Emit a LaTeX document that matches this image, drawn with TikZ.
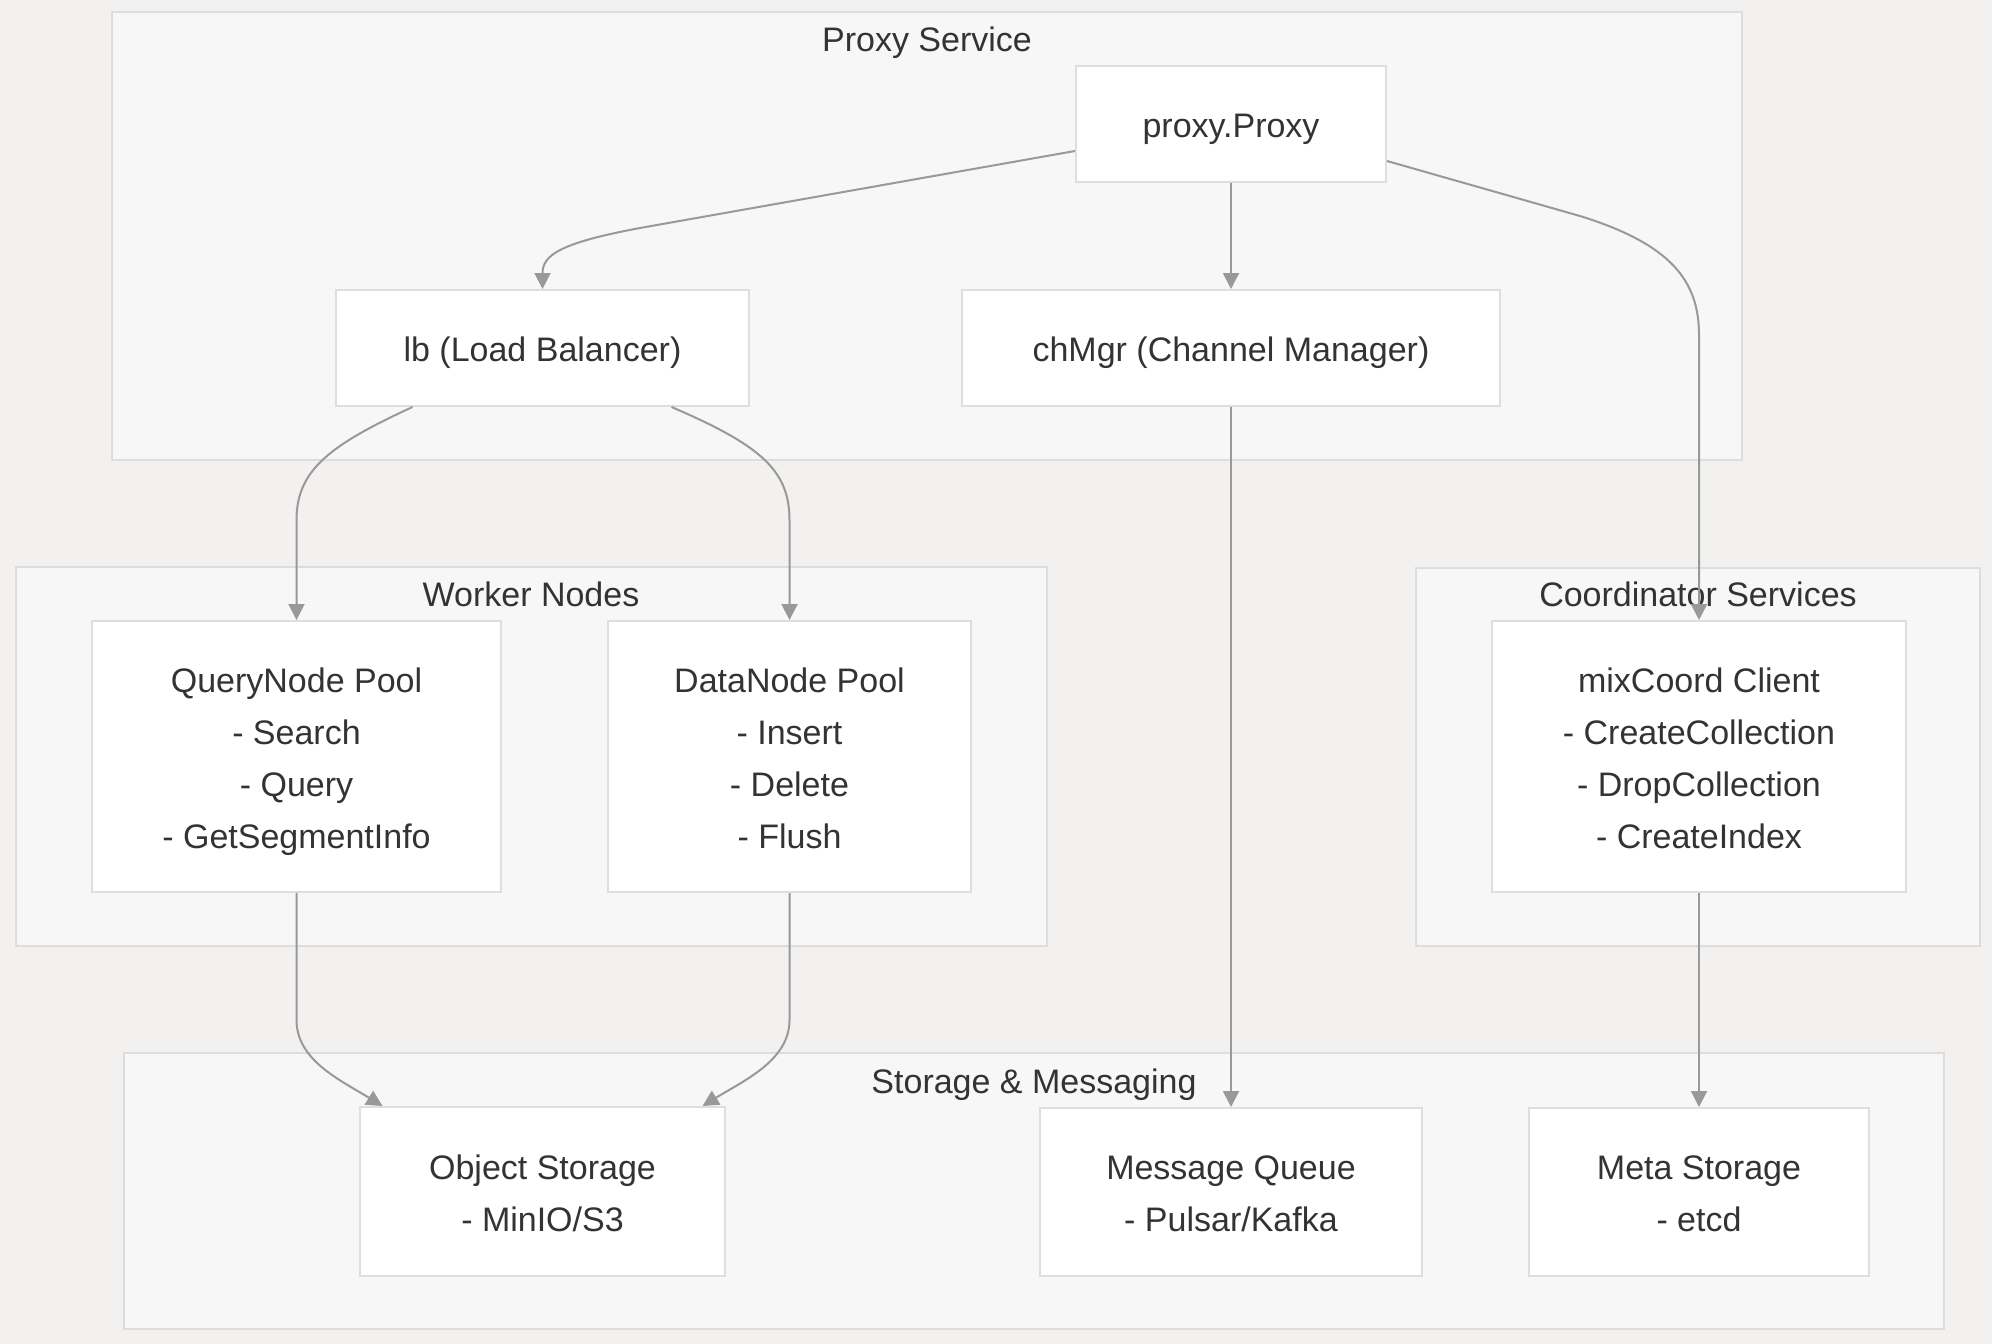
\documentclass[tikz,border=0pt]{standalone}
\usepackage{fontspec}
\setmainfont{Liberation Sans}
\usetikzlibrary{arrows.meta}
\definecolor{bgc}{HTML}{F2F1F0}
\definecolor{clfill}{HTML}{F7F7F7}
\definecolor{clline}{HTML}{DDDDDD}
\definecolor{ndline}{HTML}{DEDEDE}
\definecolor{edgec}{HTML}{999999}
\definecolor{txt}{HTML}{333333}
\newcommand\Sa{\rule[-8pt]{0pt}{43.5pt}}
\begin{document}
\begin{tikzpicture}[x=1pt,y=-1pt,
  cluster/.style={draw=clline, fill=clfill, line width=2pt},
  box/.style={draw=ndline, fill=white, line width=2pt, align=center, text=txt,
    font=\fontsize{34}{52}\selectfont, inner sep=0pt},
  ctitle/.style={text=txt, font=\fontsize{34}{40}\selectfont, inner sep=0pt,
    text height=25.5pt, text depth=0pt},
  edge/.style={draw=edgec, line width=2pt, -{Triangle[length=16pt,width=16pt]}}]
\useasboundingbox (0,0) rectangle (1992,1344);
\fill[bgc] (0,0) rectangle (1992,1344);
% clusters
\draw[cluster] (112,12) rectangle (1742,460);
\draw[cluster] (16,567) rectangle (1047,946);
\draw[cluster] (1416,568) rectangle (1980,946);
\draw[cluster] (124,1053) rectangle (1944,1329);
\node[ctitle] (tproxy) at (927,39) {Proxy Service};
\node[ctitle] (tworker) at (531,594) {Worker Nodes};
\node[ctitle] (tcoord) at (1698,594) {Coordinator Services};
\node[ctitle] (tstore) at (1034,1081) {Storage \& Messaging};
% nodes
\node[box, minimum width=310pt, minimum height=116pt] (proxy) at (1231,124) {\Sa proxy.Proxy};
\node[box, minimum width=413pt, minimum height=116pt] (lb) at (542.5,348) {\Sa lb (Load Balancer)};
\node[box, minimum width=538pt, minimum height=116pt] (chmgr) at (1231,348) {\Sa chMgr (Channel Manager)};
\node[box, minimum width=409pt, minimum height=271pt] (qn) at (296.5,756.5) {\Sa QueryNode Pool\\\Sa - Search\\\Sa - Query\\\Sa - GetSegmentInfo};
\node[box, minimum width=363pt, minimum height=271pt] (dn) at (789.5,756.5) {\Sa DataNode Pool\\\Sa - Insert\\\Sa - Delete\\\Sa - Flush};
\node[box, minimum width=414pt, minimum height=271pt] (mix) at (1699,756.5) {\Sa mixCoord Client\\\Sa - CreateCollection\\\Sa - DropCollection\\\Sa - CreateIndex};
\node[box, minimum width=365pt, minimum height=169pt] (obj) at (542.5,1191.5) {\Sa Object Storage\\\Sa - MinIO/S3};
\node[box, minimum width=382pt, minimum height=168pt] (mq) at (1231,1192) {\Sa Message Queue\\\Sa - Pulsar/Kafka};
\node[box, minimum width=340pt, minimum height=168pt] (meta) at (1699,1192) {\Sa Meta Storage\\\Sa - etcd};
% edges
\draw[edge] ([yshift=-27pt]proxy.west) -- (640,228) .. controls (560,243) and (542.5,255) .. (lb.north);
\draw[edge] (proxy.south) -- (chmgr.north);
\draw[edge] ([yshift=-37pt]proxy.east) -- (1580,216) .. controls (1670,244) and (1699,280) .. (1699,335) -- (mix.north);
\draw[edge] ([xshift=-130pt]lb.south) .. controls (330,445) and (296.5,470) .. (296.5,520) -- (qn.north);
\draw[edge] ([xshift=129pt]lb.south) .. controls (760,445) and (789.5,470) .. (789.5,520) -- (dn.north);
\draw[edge] (chmgr.south) -- (mq.north);
\draw[edge] (qn.south) -- (296.5,1020) .. controls (296.5,1060) and (340,1080) .. ([xshift=-160pt]obj.north);
\draw[edge] (dn.south) -- (789.5,1020) .. controls (789.5,1060) and (745,1080) .. ([xshift=160pt]obj.north);
\draw[edge] (mix.south) -- (meta.north);
\end{tikzpicture}
\end{document}
